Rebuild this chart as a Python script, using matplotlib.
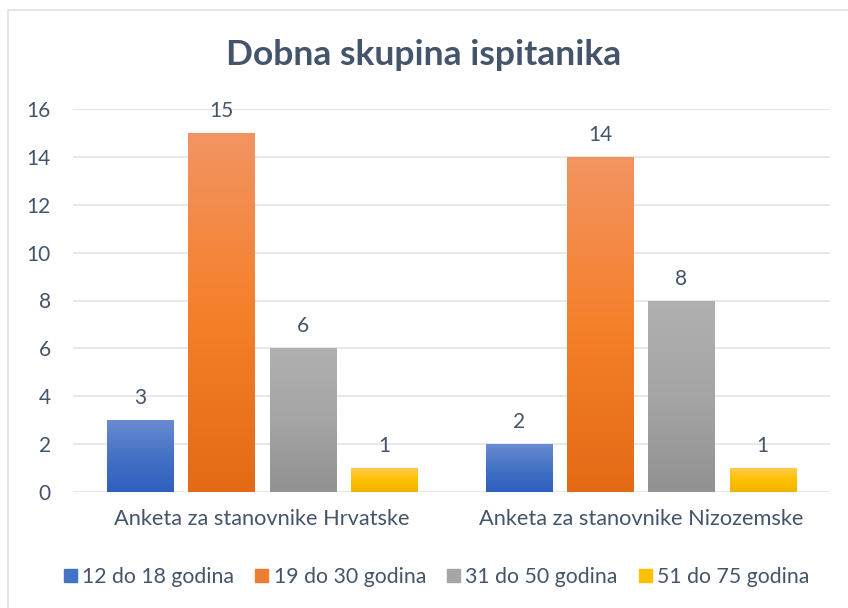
import numpy as np
import matplotlib.pyplot as plt
from matplotlib.colors import LinearSegmentedColormap
from matplotlib.patches import Rectangle

plt.rcParams['font.family'] = ['Lato', 'DejaVu Sans']

categories = ["Anketa za stanovnike Hrvatske", "Anketa za stanovnike Nizozemske"]
series = ["12 do 18 godina", "19 do 30 godina", "31 do 50 godina", "51 do 75 godina"]
values = [
    [3, 2],
    [15, 14],
    [6, 8],
    [1, 1],
]
# top, middle, bottom colours of the Excel-like gradient
gradients = [
    ["#6a8ad3", "#4472c4", "#2f5fbf"],
    ["#f29463", "#f5802a", "#e46a16"],
    ["#b0b0b0", "#a5a5a5", "#919191"],
    ["#ffcb4a", "#ffc000", "#f0b400"],
]
solid = ["#4472c4", "#ed7d31", "#a5a5a5", "#ffc000"]
text_color = "#44546a"

fig = plt.figure(figsize=(8.48, 6.08), dpi=100)
fig.patches.append(Rectangle((8 / 848, -0.1), 1.2, (608 - 10) / 608 + 0.1,
                             transform=fig.transFigure, fill=False,
                             edgecolor="#dde1e8", linewidth=1.2))
ax = fig.add_axes([73 / 848, (608 - 492) / 608, (830 - 73) / 848, 383 / 608])

x = np.arange(len(categories))
step = 0.215
width = 0.175
for i, (name, vals) in enumerate(zip(series, values)):
    pos = x + (i - 1.5) * step
    bars = ax.bar(pos, vals, width, color=solid[i], label=name, zorder=2)
    cmap = LinearSegmentedColormap.from_list("g%d" % i, gradients[i][::-1])
    for b, v in zip(bars, vals):
        grad = np.linspace(0, 1, 256).reshape(-1, 1)
        im = ax.imshow(grad, cmap=cmap, aspect="auto", origin="lower",
                       extent=[b.get_x(), b.get_x() + b.get_width(), 0, v],
                       zorder=3)
        im.set_clip_path(b)
        ax.text(b.get_x() + b.get_width() / 2, v + 0.5, str(v),
                ha="center", va="bottom", fontsize=15, color=text_color)

ax.set_xlim(-0.5, 1.5)
ax.set_ylim(0, 16)
ax.set_yticks(range(0, 17, 2))
ax.set_xticks(x)
ax.tick_params(axis="both", length=0, labelcolor=text_color)
ax.tick_params(axis="x", pad=12, labelsize=15.7)
ax.tick_params(axis="y", pad=16, labelsize=15)
ax.set_xticklabels(categories)
ax.grid(axis="y", color="#e1e4ea", linewidth=1.2, zorder=0)
ax.set_axisbelow(True)
for s in ax.spines.values():
    s.set_visible(False)

fig.suptitle("Dobna skupina ispitanika", x=0.5, y=1 - 55 / 608, va="center",
             fontsize=25.5, fontweight="bold", color=text_color)

handles = [Rectangle((0, 0), 1, 1, color=c) for c in solid]
fig.legend(handles, series, loc="center", bbox_to_anchor=(0.515, 1 - 577 / 608),
           ncol=4, frameon=False, fontsize=15.3, handlelength=0.6,
           handleheight=0.6, handletextpad=0.25, columnspacing=1.0,
           labelcolor=text_color)

fig.savefig("out.png", dpi=100)
